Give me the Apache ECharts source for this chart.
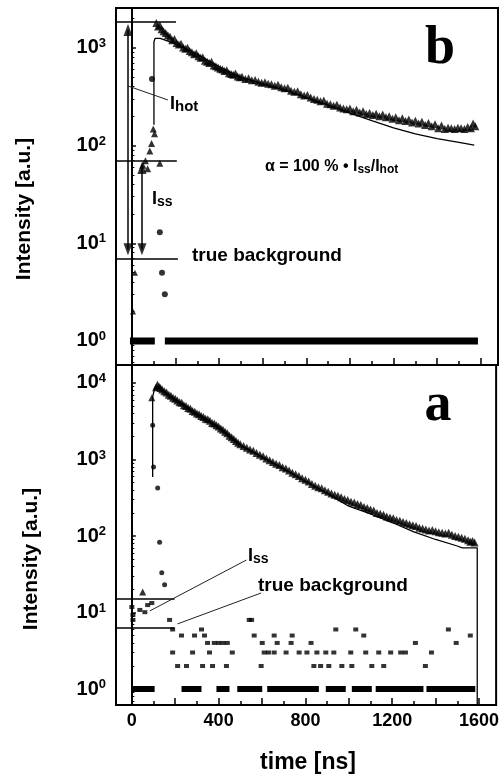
<!DOCTYPE html>
<html><head><meta charset="utf-8">
<script src="https://cdn.jsdelivr.net/npm/echarts@6/dist/echarts.min.js"></script>
<style>html,body{margin:0;padding:0;background:#fff}#c{width:502px;height:779px}</style>
</head><body><div id="c"></div>
<script>
// ---------- axis ticks ----------
const xLabelValues = [0, 400, 800, 1200, 1600];
const xMajorTicks = [0, 200, 400, 600, 800, 1000, 1200, 1400, 1600];
const xMinorTicks = [100, 300, 500, 700, 900, 1100, 1300, 1500];
const zeroCountLevel = 1;

// ---------- panel b (top) ----------
const bDecay = [[112,1800],[120,1650],[128,1700],[136,1550],[145,1480],[155,1420],[165,1350],[175,1300],[185,1200],[195,1230],[205,1120],[215,1080],[225,1100],[235,1010],[245,980],[255,1000],[265,930],[275,900],[285,860],[295,880],[305,820],[315,790],[325,800],[335,740],[345,720],[355,700],[365,720],[375,660],[385,650],[395,630],[405,610],[415,600],[425,580],[435,590],[445,550],[455,540],[465,530],[475,545],[485,510],[495,500],[505,505],[520,480],[535,490],[550,465],[565,470],[580,450],[595,440],[610,445],[625,430],[640,425],[655,410],[670,420],[685,395],[700,385],[715,390],[730,365],[745,355],[760,360],[775,335],[790,325],[805,330],[820,310],[835,300],[850,295],[865,285],[880,290],[895,268],[910,265],[925,255],[940,262],[955,245],[970,240],[985,235],[1000,240],[1015,225],[1030,232],[1045,218],[1060,225],[1075,210],[1090,215],[1105,205],[1120,212],[1135,200],[1150,208],[1165,195],[1180,200],[1195,188],[1210,195],[1225,182],[1240,190],[1255,178],[1270,185],[1285,172],[1300,180],[1315,168],[1330,175],[1345,162],[1360,170],[1375,158],[1390,165],[1405,150],[1420,160],[1435,148],[1450,152],[1465,150],[1480,148],[1495,152],[1510,150],[1525,148],[1540,155],[1555,150],[1565,168],[1575,158]];
const bRise = [[50,63],[62,70],[72,58],[82,88],[90,105],[98,148],[104,132],[128,66]];
const bDots = [[92,480],[128,13],[138,5],[151,3]];
const bLow = [[14,5],[5,2]];
const bOnesRuns = [[-9,105],[151,1587]];
const bFit = [[101,163],[101,1150],[106,1250],[115,1270],[130,1250],[200,1100],[300,860],[400,640],[500,500],[600,430],[700,370],[800,310],[900,260],[1000,215],[1100,180],[1200,152],[1300,132],[1400,118],[1500,108],[1570,101]];
const bGuideLines = [[[-73,1840],[202,1840]],[[-73,69.5],[206,69.5]],[[-73,6.9],[211,6.9]],[[-18,1525],[-18,8.7]],[[46,59],[46,8.7]]];
const bLeader = [[[-18,407],[165,293]]];
const bArrowUp = [[-18,1525],[46,59]];
const bArrowDown = [[-18,8.7],[46,8.7]];

// ---------- panel a (bottom) ----------
const aDecay = [[112,8800],[118,9500],[125,9000],[132,8600],[140,8200],[150,7800],[160,7500],[170,7000],[180,6800],[190,6400],[200,6200],[210,5900],[220,5600],[230,5500],[240,5100],[250,5000],[260,4700],[270,4600],[280,4300],[290,4200],[300,4000],[310,3900],[320,3700],[330,3600],[340,3400],[350,3350],[360,3200],[370,3000],[380,2950],[390,2800],[400,2700],[410,2550],[420,2450],[430,2300],[440,2200],[450,2050],[460,1950],[470,1850],[480,1750],[490,1650],[500,1580],[515,1500],[530,1420],[545,1350],[560,1300],[575,1220],[590,1150],[605,1100],[620,1030],[635,980],[650,930],[665,880],[680,850],[695,790],[710,760],[725,720],[740,670],[755,640],[770,610],[785,570],[800,545],[815,515],[830,480],[845,455],[860,435],[875,420],[890,395],[905,380],[920,360],[935,345],[950,335],[965,320],[980,305],[995,295],[1010,280],[1025,275],[1040,262],[1055,255],[1070,240],[1085,232],[1100,222],[1115,215],[1130,200],[1145,195],[1160,190],[1175,180],[1190,175],[1205,170],[1220,162],[1235,158],[1250,152],[1265,148],[1280,142],[1295,138],[1310,135],[1325,128],[1340,125],[1355,122],[1370,118],[1385,120],[1400,115],[1415,112],[1430,110],[1445,108],[1460,110],[1475,104],[1490,100],[1505,98],[1520,95],[1535,92],[1550,88],[1560,84],[1570,86],[1580,82]];
const aRise = [[92,6400],[50,18.5]];
const aDots = [[96,2800],[100,800],[119,425],[128,83],[138,33],[151,23]];
const aPre = [[0,11.8],[5,9.3],[5,8],[37,10.8],[60,10.1],[73,12.5],[92,13.3]];
const aBg = [[174,8],[188,6],[229,5],[289,5],[321,6],[335,5],[349,4],[380,4],[400,4],[420,4],[440,4],[188,3],[280,3],[358,3],[463,3],[211,2],[252,2],[326,2],[372,2],[436,2],[541,8],[552,8],[564,5],[656,5],[739,5],[601,4],[670,4],[734,4],[826,4],[940,6],[1032,6],[1069,5],[1307,4],[1459,6],[1495,4],[1560,5],[610,3],[630,3],[656,3],[711,3],[771,3],[807,3],[853,3],[894,3],[931,3],[1009,3],[1078,3],[1138,3],[1193,3],[1239,3],[1261,3],[1381,3],[596,2],[839,2],[870,2],[908,2],[968,2],[1014,2],[1106,2],[1161,2],[1353,2]];
const aOnesRuns = [[0,105],[229,321],[390,450],[486,601],[624,862],[894,986],[1014,1106],[1124,1344],[1358,1583]];
const aFit = [[96,590],[96,6600],[105,8500],[120,9000],[150,7800],[200,6100],[300,4000],[400,2650],[500,1550],[600,1080],[700,760],[800,520],[900,360],[1000,245],[1100,195],[1200,150],[1300,113],[1400,90],[1500,74],[1523,70],[1592,70],[1592,0.62]];
const aGuideLines = [[[-73,15],[197,15]],[[-73,6.27],[197,6.27]]];
const aLeaders = [[[83,10.5],[528,48.5]],[[211,7.1],[596,18]]];

// ---------- helpers ----------
const FF = '"Liberation Sans", Arial, sans-serif';
const SERIF = '"Liberation Serif", "Times New Roman", serif';
function runsToLine(runs){const d=[];runs.forEach(r=>{d.push([r[0],zeroCountLevel],[r[1],zeroCountLevel],[r[1],'-']);});return d;}
function segs(list){return list.map(p=>[{coord:p[0]},{coord:p[1]}]);}
const yRich = {
  b:{fontSize:20,fontWeight:'bold',fontFamily:FF,color:'#000',lineHeight:22},
  s:{fontSize:13,fontWeight:'bold',fontFamily:FF,color:'#000',lineHeight:13,verticalAlign:'top'}
};
function yAxisCfg(grid,min,max){return {
  type:'log',logBase:10,gridIndex:grid,min:min,max:max,
  axisLine:{show:true,lineStyle:{color:'#000',width:2}},
  axisTick:{show:true,inside:true,length:4,lineStyle:{color:'#000',width:1.5}},
  minorTick:{show:true,splitNumber:9,length:2.5,lineStyle:{color:'#000',width:1}},
  splitLine:{show:false},minorSplitLine:{show:false},
  axisLabel:{show:true,margin:10,showMinLabel:false,showMaxLabel:false,
    formatter:function(v){return '{b|10}{s|'+Math.round(Math.log10(v))+'}';},rich:yRich}
};}
function xAxisCfg(grid,labels){return {
  type:'value',gridIndex:grid,min:-73,max:1679,position:'bottom',
  axisLine:{show:true,onZero:false,lineStyle:{color:'#000',width:2}},
  axisTick:{show:true,inside:true,length:7,customValues:xMajorTicks,lineStyle:{color:'#000',width:1.5}},
  splitLine:{show:false},
  axisLabel:{show:labels,customValues:xLabelValues,margin:7,color:'#000',fontSize:18,fontWeight:'bold',fontFamily:FF,
    formatter:function(v){return String(Math.round(v));}}
};}
function xMinorCfg(grid){return {
  type:'value',gridIndex:grid,min:-73,max:1679,position:'bottom',
  axisLine:{show:false,onZero:false},
  axisTick:{show:true,inside:true,length:4,customValues:xMinorTicks,lineStyle:{color:'#000',width:1.5}},
  splitLine:{show:false},axisLabel:{show:false}
};}
const lineBlack = {color:'#000',width:1.5,type:'solid'};
function scatter(xi,yi,data,sym,size,rot){return {type:'scatter',xAxisIndex:xi,yAxisIndex:yi,data:data,symbol:sym,symbolSize:size,symbolRotate:rot||0,itemStyle:{color:'#000'},silent:true,z:3};}
function txt(x,y,text,size,extra){return Object.assign({type:'text',x:x,y:y,silent:true,style:{text:text,fill:'#000',font:'bold '+size+'px '+FF,align:'left',verticalAlign:'middle'}},extra||{});}

const option = {
  animation:false,
  backgroundColor:'#fff',
  grid:[
    {left:116,top:8,width:382,height:357,show:true,borderColor:'#000',borderWidth:2,containLabel:false},
    {left:116,top:365,width:382,height:340,show:true,borderColor:'#000',borderWidth:2,containLabel:false}
  ],
  xAxis:[xAxisCfg(0,false),xMinorCfg(0),xAxisCfg(1,true),xMinorCfg(1)],
  yAxis:[yAxisCfg(0,0.5675,2559),yAxisCfg(1,0.618,17180)],
  series:[
    // panel b
    {type:'line',xAxisIndex:0,yAxisIndex:0,data:runsToLine(bOnesRuns),symbol:'none',connectNulls:false,lineStyle:{color:'#000',width:7,cap:'butt'},silent:true,z:2},
    {type:'line',xAxisIndex:0,yAxisIndex:0,data:bFit,symbol:'none',lineStyle:{color:'#000',width:1.3},silent:true,z:2,
      markLine:{silent:true,symbol:['none','none'],label:{show:false},lineStyle:lineBlack,data:segs(bGuideLines)}},
    {type:'line',xAxisIndex:0,yAxisIndex:0,data:[],symbol:'none',silent:true,
      markLine:{silent:true,symbol:['none','none'],label:{show:false},lineStyle:{color:'#222',width:1,type:'solid'},data:segs(bLeader)}},
    scatter(0,0,bDecay,'triangle',8),
    scatter(0,0,bRise,'triangle',7),
    scatter(0,0,bDots,'circle',6),
    scatter(0,0,bLow,'triangle',6),
    scatter(0,0,bArrowUp,'triangle',[9,12]),
    scatter(0,0,bArrowDown,'triangle',[9,12],180),
    // panel a
    {type:'line',xAxisIndex:2,yAxisIndex:1,data:runsToLine(aOnesRuns),symbol:'none',connectNulls:false,lineStyle:{color:'#000',width:6,cap:'butt'},silent:true,z:2},
    {type:'line',xAxisIndex:2,yAxisIndex:1,data:aFit,symbol:'none',lineStyle:{color:'#000',width:1.3},silent:true,z:2,
      markLine:{silent:true,symbol:['none','none'],label:{show:false},lineStyle:lineBlack,data:segs(aGuideLines)}},
    {type:'line',xAxisIndex:2,yAxisIndex:1,data:[],symbol:'none',silent:true,
      markLine:{silent:true,symbol:['none','none'],label:{show:false},lineStyle:{color:'#222',width:1,type:'solid'},data:segs(aLeaders)}},
    scatter(2,1,aDecay,'triangle',8),
    scatter(2,1,aRise,'triangle',7),
    scatter(2,1,aDots,'circle',5),
    scatter(2,1,aPre,'rect',[5,4]),
    scatter(2,1,aBg,'rect',[5,4])
  ],
  graphic:[
    {type:'text',x:440,y:49,silent:true,style:{text:'b',fill:'#000',font:'bold 54px '+SERIF,align:'center',verticalAlign:'middle'}},
    {type:'text',x:438,y:406,silent:true,style:{text:'a',fill:'#000',font:'bold 54px '+SERIF,align:'center',verticalAlign:'middle'}},
    {type:'text',x:170,y:104,silent:true,style:{text:'{i|I}{s|hot}',align:'left',verticalAlign:'middle',
      rich:{i:{fontSize:18,fontWeight:'bold',fontFamily:FF,fill:'#000',lineHeight:20},s:{fontSize:15,fontWeight:'bold',fontFamily:FF,fill:'#000',lineHeight:20,verticalAlign:'bottom'}}}},
    {type:'text',x:152,y:199,silent:true,style:{text:'{i|I}{s|ss}',align:'left',verticalAlign:'middle',
      rich:{i:{fontSize:18,fontWeight:'bold',fontFamily:FF,fill:'#000',lineHeight:20},s:{fontSize:14,fontWeight:'bold',fontFamily:FF,fill:'#000',lineHeight:20,verticalAlign:'bottom'}}}},
    txt(192,256,'true background',19),
    {type:'text',x:265,y:167,silent:true,style:{text:'{n|α = 100 % • I}{s|ss}{n|/I}{s|hot}',align:'left',verticalAlign:'middle',
      rich:{n:{fontSize:16,fontWeight:'bold',fontFamily:FF,fill:'#000',lineHeight:18},s:{fontSize:12,fontWeight:'bold',fontFamily:FF,fill:'#000',lineHeight:18,verticalAlign:'bottom'}}}},
    {type:'text',x:248,y:556,silent:true,style:{text:'{i|I}{s|ss}',align:'left',verticalAlign:'middle',
      rich:{i:{fontSize:18,fontWeight:'bold',fontFamily:FF,fill:'#000',lineHeight:20},s:{fontSize:14,fontWeight:'bold',fontFamily:FF,fill:'#000',lineHeight:20,verticalAlign:'bottom'}}}},
    txt(258,586,'true background',19),
    {type:'text',x:24,y:209,rotation:Math.PI/2,silent:true,style:{text:'Intensity [a.u.]',fill:'#000',font:'bold 21px '+FF,align:'center',verticalAlign:'middle'}},
    {type:'text',x:31,y:559,rotation:Math.PI/2,silent:true,style:{text:'Intensity [a.u.]',fill:'#000',font:'bold 21px '+FF,align:'center',verticalAlign:'middle'}},
    {type:'text',x:308,y:763,silent:true,style:{text:'time [ns]',fill:'#000',font:'bold 23px '+FF,align:'center',verticalAlign:'middle'}}
  ]
};
const chart = echarts.init(document.getElementById('c'),null,{renderer:'canvas'});
chart.setOption(option);
</script>
</body></html>
